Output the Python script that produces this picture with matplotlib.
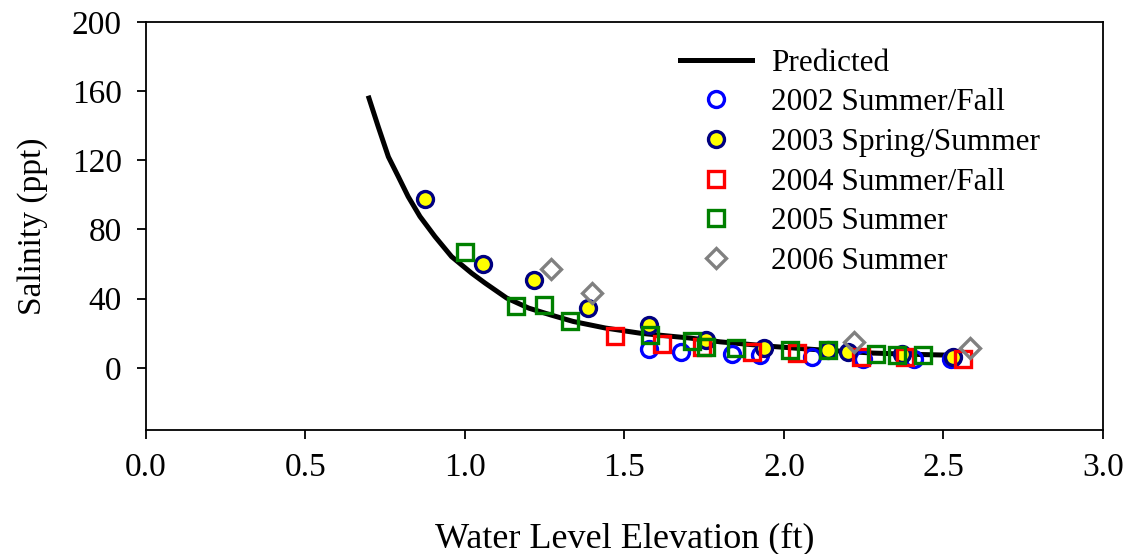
import matplotlib
matplotlib.use("Agg")
import matplotlib.pyplot as plt

plt.rcParams['font.family'] = ['Liberation Serif', 'DejaVu Serif']

# Predicted curve
pred_x = [0.699, 0.728, 0.760, 0.791, 0.822, 0.859, 0.906, 0.958, 1.021, 1.063,
          1.131, 1.20, 1.27, 1.339, 1.44, 1.549, 1.63, 1.705, 1.80, 1.966,
          2.10, 2.28, 2.40, 2.54]
pred_y = [156, 139.5, 122, 110.6, 99, 87.5, 75.9, 64.3, 54.7, 49,
          40.3, 34.5, 30.5, 26.8, 23, 20, 18.5, 17.2, 15, 12.3,
          10.5, 8.5, 7.8, 7.2]

# Observations
x2002 = [1.576, 1.677, 1.836, 1.925, 2.087, 2.249, 2.408, 2.525]
y2002 = [11.0, 9.0, 8.0, 7.5, 6.5, 5.0, 5.0, 5.0]

x2003 = [0.875, 1.055, 1.215, 1.386, 1.576, 1.757, 1.937, 2.138, 2.200, 2.369, 2.531]
y2003 = [97.7, 60.0, 51.0, 34.5, 24.8, 16.0, 11.7, 10.0, 9.4, 8.0, 6.5]

x2004 = [1.469, 1.619, 1.742, 1.899, 2.040, 2.240, 2.379, 2.562]
y2004 = [18.3, 14.0, 12.3, 9.4, 8.5, 6.5, 6.2, 5.0]

x2005 = [0.999, 1.159, 1.249, 1.328, 1.579, 1.711, 1.757, 1.850, 2.019, 2.139, 2.290, 2.353, 2.437]
y2005 = [67.0, 36.0, 36.4, 27.0, 18.7, 15.2, 12.3, 11.7, 10.0, 10.0, 7.9, 7.5, 7.1]

x2006 = [1.269, 1.399, 2.220, 2.583]
y2006 = [57.0, 43.0, 15.0, 11.7]

xticks = [0.0, 0.5, 1.0, 1.5, 2.0, 2.5, 3.0]
xticklabels = ['0.0', '0.5', '1.0', '1.5', '2.0', '2.5', '3.0']
yticks = [0, 40, 80, 120, 160, 200]

fig = plt.figure(figsize=(11.28, 5.54), dpi=100)
ax = fig.add_axes([0.1294, 0.2238, 0.9778 - 0.1294, 0.9603 - 0.2238])

ax.plot(pred_x, pred_y, color='black', lw=3.6, label='Predicted', zorder=2,
        solid_joinstyle='round')
ms = 11.5
mew = 2.4
ax.plot(x2002, y2002, 'o', ms=ms, mfc='none', mec='#0000FF', mew=mew,
        label='2002 Summer/Fall', zorder=3)
ax.plot(x2003, y2003, 'o', ms=ms, mfc='#FFFF00', mec='#000080', mew=mew,
        label='2003 Spring/Summer', zorder=3)
ax.plot(x2004, y2004, 's', ms=11, mfc='none', mec='#FF0000', mew=mew,
        label='2004 Summer/Fall', zorder=3)
ax.plot(x2005, y2005, 's', ms=11, mfc='none', mec='#008000', mew=mew,
        label='2005 Summer', zorder=3)
ax.plot(x2006, y2006, 'D', ms=10, mfc='none', mec='#808080', mew=mew,
        label='2006 Summer', zorder=3)

ax.set_xlim(0, 3.0)
ax.set_ylim(-36, 200)
ax.set_xticks(xticks)
ax.set_xticklabels(xticklabels)
ax.set_yticks(yticks)
ax.tick_params(direction='out', length=6.5, width=1.3, labelsize=24)
ax.tick_params(axis='x', pad=10)
ax.tick_params(axis='y', pad=11)
for s in ax.spines.values():
    s.set_linewidth(1.3)

ax.set_xlabel('Water Level Elevation (ft)', fontsize=26, labelpad=28)
ax.set_ylabel('Salinity (ppt)', fontsize=24, labelpad=17)

leg = ax.legend(loc='upper left', bbox_to_anchor=(0.545, 0.965), frameon=False,
                fontsize=22.5, handlelength=2.3, handletextpad=0.6,
                labelspacing=0.34, borderaxespad=0)

fig.savefig('out.png', dpi=100)
